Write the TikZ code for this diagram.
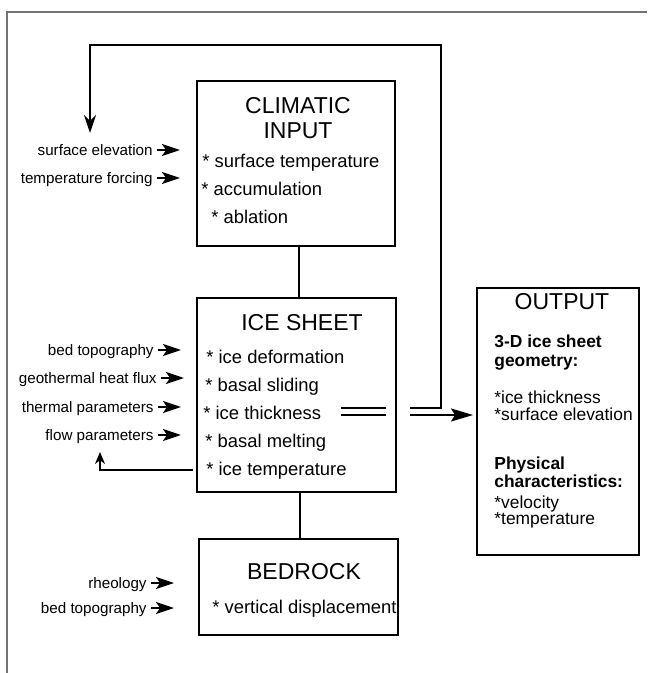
\documentclass[tikz,border=0pt]{standalone}
\usepackage{fontspec}
\setmainfont{Liberation Sans}
\usetikzlibrary{arrows.meta}
\tikzstyle{box}=[draw, line width=1pt, inner sep=0pt]
\tikzstyle{title}=[font=\fontsize{11.5}{13}\selectfont, inner sep=0pt, text height=0.72em, text depth=0pt]
\tikzstyle{item}=[font=\fontsize{9.2}{11}\selectfont, anchor=west, inner sep=0pt, text height=0.72em, text depth=0.2em]
\tikzstyle{param}=[font=\fontsize{7.6}{9}\selectfont, anchor=east, inner sep=0pt, text height=0.72em, text depth=0.2em]
\tikzstyle{outline}=[font=\fontsize{8.7}{10}\selectfont, anchor=west, inner sep=0pt, text height=0.72em, text depth=0.2em]
\tikzstyle{inarrow}=[line width=1pt, -{Stealth[length=9pt,width=6pt,inset=2pt]}]
\tikzstyle{link}=[line width=1pt]

\begin{document}
\begin{tikzpicture}[x=0.5pt, y=-0.5pt]
        \useasboundingbox (0,0) rectangle (647,673);
        % page frame, open to the right and below
        \draw[black!55, line width=0.6pt] (7,673) -- (7,12) -- (647,12);

        % the four boxes
        \node[box, minimum width=99pt, minimum height=82.5pt] (clim) at (296,163.5) {};
        \node[box, minimum width=99.5pt, minimum height=97pt] (ice) at (296.5,395) {};
        \node[box, minimum width=99.5pt, minimum height=48pt] (bed) at (298.5,587) {};
        \node[box, minimum width=81pt, minimum height=133.5pt] (out) at (558,421.5) {};

        % climatic input
        \node[title] (climA) at (298,106) {CLIMATIC};
        \node[title] (climB) at (298,131) {INPUT};
        \node[item] (ci1) at (202,162) {* surface temperature};
        \node[item] (ci2) at (201,190) {* accumulation};
        \node[item] (ci3) at (211,218) {* ablation};

        % ice sheet
        \node[title] (iceT) at (302,323) {ICE SHEET};
        \node[item] (ii1) at (206,358) {* ice deformation};
        \node[item] (ii2) at (205,386) {* basal sliding};
        \node[item] (ii3) at (203,414) {* ice thickness};
        \node[item] (ii4) at (205,442) {* basal melting};
        \node[item] (ii5) at (206,470) {* ice temperature};

        % bedrock
        \node[title] (bedT) at (304,572) {BEDROCK};
        \node[item] (bi1) at (212,608) {* vertical displacement};

        % output
        \node[title] (outT) at (562,302) {OUTPUT};
        \node[outline, font=\fontsize{8.7}{10}\selectfont\bfseries] (o1) at (494,342) {3-D ice sheet};
        \node[outline, font=\fontsize{8.7}{10}\selectfont\bfseries] (o2) at (494,361) {geometry:};
        \node[outline] (o3) at (494,398) {*ice thickness};
        \node[outline] (o4) at (494,415) {*surface elevation};
        \node[outline, font=\fontsize{8.7}{10}\selectfont\bfseries] (o5) at (494,464) {Physical};
        \node[outline, font=\fontsize{8.7}{10}\selectfont\bfseries] (o6) at (494,482) {characteristics:};
        \node[outline] (o7) at (494,503) {*velocity};
        \node[outline] (o8) at (494,519) {*temperature};

        % forcing on the left
        \node[param] (p1) at (153,150) {surface elevation};
        \node[param] (p2) at (153,178) {temperature forcing};
        \node[param] (p3) at (154,350) {bed topography};
        \node[param] (p4) at (157,378) {geothermal heat flux};
        \node[param] (p5) at (154,407) {thermal parameters};
        \node[param] (p6) at (154,435) {flow parameters};
        \node[param] (p7) at (147,583) {rheology};
        \node[param] (p8) at (147,608) {bed topography};
        \foreach \p in {p1,p2,p3,p4,p5,p6,p7,p8}
            \draw[inarrow] ([xshift=2pt]\p.east) -- ++(23,0);

        % links between the boxes
        \coordinate (c1) at (299,0);
        \coordinate (c2) at (300,0);
        \draw[line width=0.8pt] (clim.south -| c1) -- (ice.north -| c1);
        \draw[line width=0.8pt] (ice.south -| c2) -- (bed.north -| c2);

        % double line out of ice thickness
        \coordinate (d1) at (341,408);
        \coordinate (d2) at (386,408);
        \coordinate (d3) at (341,415);
        \coordinate (d4) at (386,415);
        \draw[link] (d1) -- (d2);
        \draw[link] (d3) -- (d4);

        % to the output box
        \coordinate (lo) at (410,415);
        \draw[link, -{Stealth[length=11pt,width=6.5pt,inset=2pt]}, shorten >=1.5pt] (lo) -- (lo -| out.west);

        % feedback to surface elevation
        \coordinate (up) at (410,408);
        \coordinate (r1) at (441,408);
        \coordinate (r2) at (441,45);
        \coordinate (r3) at (90,45);
        \coordinate (r4) at (90,133);
        \draw[link, -{Stealth[length=9pt,width=6pt]}] (up) -- (r1) -- (r2) -- (r3) -- (r4);

        % feedback to flow parameters
        \coordinate (f1) at (193,470);
        \coordinate (f2) at (100,470);
        \coordinate (f3) at (100,452);
        \draw[link, -{Stealth[length=6pt,width=5pt]}] (f1) -- (f2) -- (f3);
\end{tikzpicture}
\end{document}
